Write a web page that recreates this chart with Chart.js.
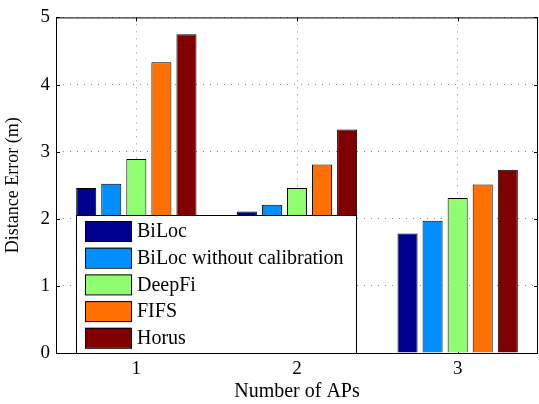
<!DOCTYPE html>
<html>
<head>
<meta charset="UTF-8">
<script src="https://cdn.jsdelivr.net/npm/chart.js@4/dist/chart.umd.min.js"></script>
<style>
  html, body { margin: 0; padding: 0; background: #fff; }
  #wrap { width: 539px; height: 404px; }
</style>
</head>
<body>
<div id="wrap"><canvas id="chart" width="539" height="404"></canvas></div>
<script>
const categories = ['1', '2', '3'];
const seriesNames = ['BiLoc', 'BiLoc without calibration', 'DeepFi', 'FIFS', 'Horus'];
const biloc = [2.46, 2.11, 1.78];
const bilocNoCal = [2.52, 2.21, 1.97];
const deepfi = [2.89, 2.46, 2.31];
const fifs = [4.33, 2.81, 2.51];
const horus = [4.75, 3.33, 2.73];
const yTicks = [0, 1, 2, 3, 4, 5];

const colors = ['#00008f', '#008fff', '#8fff70', '#ff7000', '#800000'];
const values = [biloc, bilocNoCal, deepfi, fifs, horus];
const FONT = '"Liberation Serif", "DejaVu Serif", serif';

// legend box drawn inside the plot (lower left), like the MATLAB one
const insideLegend = {
    id: 'insideLegend',
    afterDraw(chart) {
        const c = chart.ctx;
        const area = chart.chartArea;
        const x0 = area.left + 20, y0 = area.bottom - 138, w = 280, h = 138;
        c.save();
        c.fillStyle = '#fff';
        c.fillRect(x0, y0, w, h);
        c.strokeStyle = '#000';
        c.lineWidth = 1;
        c.strokeRect(x0 + 0.5, y0 + 0.5, w, h);
        c.font = '20px ' + FONT;
        c.textBaseline = 'middle';
        chart.data.datasets.forEach((ds, i) => {
            const ry = y0 + 6 + i * 26.7;
            c.fillStyle = ds.backgroundColor;
            c.fillRect(x0 + 9, ry, 46, 20);
            c.strokeRect(x0 + 9.5, ry + 0.5, 46, 20);
            c.fillStyle = '#000';
            c.fillText(ds.label, x0 + 61, ry + 11);
        });
        c.restore();
    }
};

// black box around the axes, with small inward ticks
const frame = {
    id: 'frame',
    beforeDatasetsDraw(chart) {
        const c = chart.ctx;
        const a = chart.chartArea;
        const xs = chart.scales.x, ys = chart.scales.y;
        c.save();
        c.strokeStyle = '#000';
        c.lineWidth = 1;
        c.strokeRect(a.left + 0.5, a.top + 0.5, a.right - a.left - 1, a.bottom - a.top);
        c.beginPath();
        yTicks.forEach(v => {
            const y = Math.round(ys.getPixelForValue(v)) + 0.5;
            c.moveTo(a.left, y); c.lineTo(a.left + 4, y);
            c.moveTo(a.right, y); c.lineTo(a.right - 4, y);
        });
        categories.forEach((_, i) => {
            const x = Math.round(xs.getPixelForTick(i)) + 0.5;
            c.moveTo(x, a.top); c.lineTo(x, a.top + 4);
            c.moveTo(x, a.bottom); c.lineTo(x, a.bottom - 4);
        });
        c.stroke();
        c.restore();
    }
};

new Chart(document.getElementById('chart'), {
    type: 'bar',
    data: {
        labels: categories,
        datasets: seriesNames.map((name, i) => ({
            label: name,
            data: values[i],
            backgroundColor: colors[i],
            borderColor: '#000',
            borderWidth: 1,
            categoryPercentage: 0.78,
            barPercentage: 0.8
        }))
    },
    options: {
        responsive: false,
        animation: false,
        layout: { padding: { top: 10, right: 1, left: 0, bottom: 0 } },
        plugins: {
            legend: { display: false },
            tooltip: { enabled: false }
        },
        scales: {
            x: {
                grid: { offset: false, color: '#8a8a8a', drawTicks: false },
                border: { display: false, dash: [1, 6] },
                ticks: { color: '#000', font: { family: FONT, size: 19 }, padding: 5 },
                title: { display: true, text: 'Number of APs', color: '#000', font: { family: FONT, size: 20 }, padding: 0 },
                afterFit(s) { s.height = 51; }
            },
            y: {
                min: 0,
                max: 5,
                afterBuildTicks(s) { s.ticks = yTicks.map(v => ({ value: v })); },
                grid: { color: '#8a8a8a', drawTicks: false },
                border: { display: false, dash: [1, 6] },
                ticks: { color: '#000', font: { family: FONT, size: 19 }, padding: 6 },
                title: { display: true, text: 'Distance Error (m)', color: '#000', font: { family: FONT, size: 18 }, padding: 2 },
                afterFit(s) { s.width = 56; }
            }
        }
    },
    plugins: [frame, insideLegend]
});
</script>
</body>
</html>
